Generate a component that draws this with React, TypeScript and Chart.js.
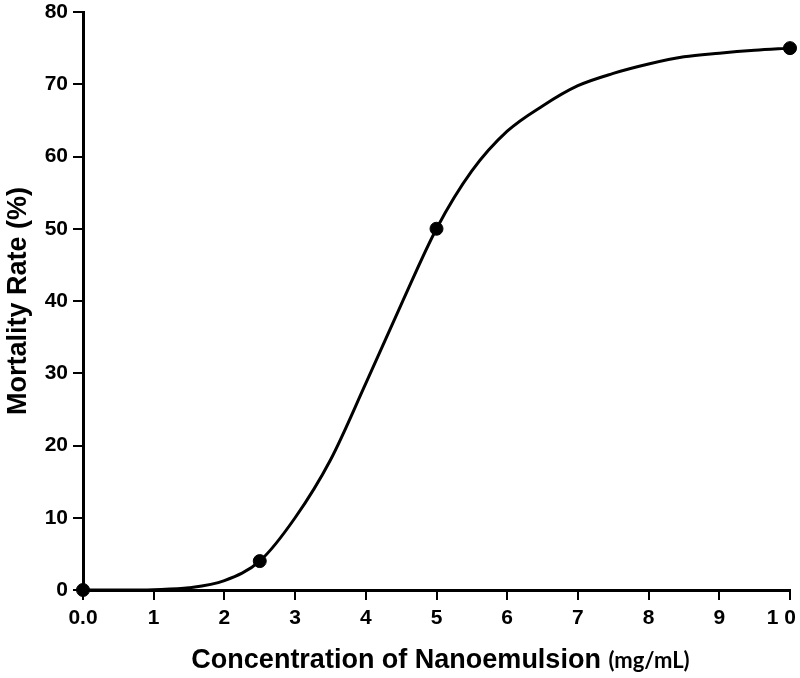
import React, { useEffect, useRef } from "react";
import { Chart, registerables } from "chart.js";

Chart.register(...registerables);

const curveX = [0, 0.5, 1, 1.5, 2, 2.5, 3, 3.5, 4, 4.5, 5, 5.5, 6, 6.5, 7, 7.5, 8, 8.5, 9, 9.5, 10];
const curveY = [0, 0, 0.05, 0.3, 1.3, 4, 10, 18, 28.6, 39.5, 50, 58, 63.5, 67, 69.8, 71.5, 72.8, 73.8, 74.3, 74.7, 75];

const pointX = [0, 2.5, 5, 10];
const pointY = [0, 4, 50, 75];

const xTickLabels = ["0.0", "1", "2", "3", "4", "5", "6", "7", "8", "9", "1 0   "];
const yTicks = [0, 10, 20, 30, 40, 50, 60, 70, 80];

const xTitleMain = "Concentration of Nanoemulsion";
const xTitleUnit = "(mg/mL)";
const yTitle = "Mortality Rate (%)";

const xTitlePlugin = {
  id: "xTitlePlugin",
  afterDraw(chart: any) {
    const ctx = chart.ctx;
    const area = chart.chartArea;
    ctx.save();
    ctx.fillStyle = "#000";
    ctx.textBaseline = "alphabetic";
    ctx.textAlign = "left";
    const f1 = "bold 27px 'Liberation Sans', Arial, sans-serif";
    const f2 = "bold 22px Lato, 'Liberation Sans', sans-serif";
    ctx.font = f1;
    const w1 = ctx.measureText(xTitleMain + " ").width;
    ctx.font = f2;
    const w2 = ctx.measureText(xTitleUnit).width;
    const cx = (area.left + area.right) / 2 + 4;
    const start = cx - (w1 + w2) / 2;
    ctx.font = f1;
    ctx.fillText(xTitleMain + " ", start, 668);
    ctx.font = f2;
    ctx.fillText(xTitleUnit, start + w1, 668);
    ctx.restore();
  },
};

export default function App() {
  const ref = useRef<HTMLCanvasElement | null>(null);

  useEffect(() => {
    document.body.style.margin = "0";
    if (!ref.current) return;
    const chart = new Chart(ref.current, {
      type: "scatter",
      data: {
        datasets: [
          {
            type: "line",
            data: curveX.map((x, i) => ({ x, y: curveY[i] })),
            borderColor: "#000",
            borderWidth: 3,
            pointRadius: 0,
            tension: 0.4,
            cubicInterpolationMode: "monotone",
            fill: false,
            clip: false,
          } as any,
          {
            type: "scatter",
            data: pointX.map((x, i) => ({ x, y: pointY[i] })),
            backgroundColor: "#000",
            borderColor: "#000",
            pointRadius: 6.5,
            pointHoverRadius: 6.5,
            clip: false,
          } as any,
        ],
      },
      options: {
        animation: false,
        responsive: false,
        maintainAspectRatio: false,
        layout: { padding: { top: 12, right: 10, left: 0, bottom: 0 } },
        plugins: {
          legend: { display: false },
          tooltip: { enabled: false },
        },
        scales: {
          x: {
            type: "linear",
            min: 0,
            max: 10,
            afterBuildTicks(scale: any) {
              scale.ticks = xTickLabels.map((_, i) => ({ value: i }));
            },
            afterFit(scale: any) {
              scale.height = 88;
              scale.paddingLeft = 0;
              scale.paddingRight = 0;
            },
            ticks: {
              color: "#000",
              font: { family: "'Liberation Sans', Arial, sans-serif", size: 21, weight: "bold" },
              padding: 6,
              maxRotation: 0,
              autoSkip: false,
              callback: (v: any) => xTickLabels[Math.round(Number(v))] ?? "",
            },
            grid: {
              display: true,
              drawOnChartArea: false,
              drawTicks: true,
              tickLength: 10,
              color: "#000",
              lineWidth: 2,
            },
            border: { display: true, color: "#000", width: 3 },
          },
          y: {
            type: "linear",
            min: 0,
            max: 80,
            afterBuildTicks(scale: any) {
              scale.ticks = yTicks.map((v) => ({ value: v }));
            },
            afterFit(scale: any) {
              scale.width = 83;
              scale.paddingTop = 0;
              scale.paddingBottom = 0;
            },
            ticks: {
              color: "#000",
              font: { family: "'Liberation Sans', Arial, sans-serif", size: 21, weight: "bold" },
              padding: 5,
              autoSkip: false,
              callback: (v: any) => String(v),
            },
            grid: {
              display: true,
              drawOnChartArea: false,
              drawTicks: true,
              tickLength: 10,
              color: "#000",
              lineWidth: 2,
            },
            border: { display: true, color: "#000", width: 3 },
            title: {
              display: true,
              text: yTitle,
              color: "#000",
              font: { family: "'Liberation Sans', Arial, sans-serif", size: 27, weight: "bold" },
              padding: { top: 2, bottom: 0 },
            },
          },
        },
      },
      plugins: [xTitlePlugin],
    });
    return () => chart.destroy();
  }, []);

  return (
    <div style={{ width: 800, height: 678, background: "#fff" }}>
      <canvas ref={ref} width={800} height={678} style={{ display: "block" }} />
    </div>
  );
}
